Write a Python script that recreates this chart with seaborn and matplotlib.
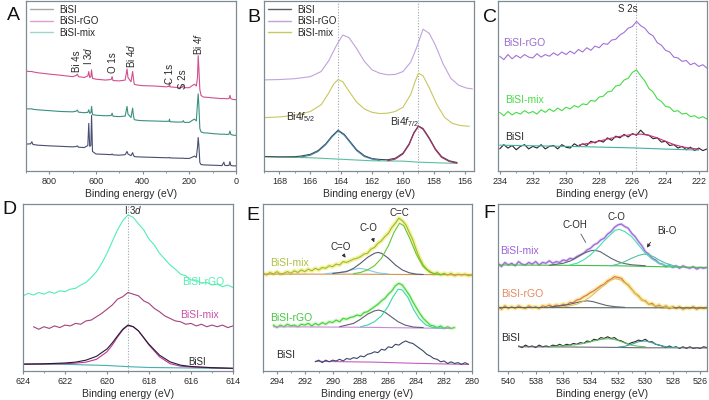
import matplotlib
matplotlib.use("Agg")
import matplotlib.pyplot as plt
import seaborn as sns
import numpy as np
from matplotlib.lines import Line2D

# ---------------- data (y in % of panel height) ----------------
# A: survey
A_e = [900, 880, 875, 870, 850, 800, 750, 700, 685, 680, 675, 650, 635, 631, 627, 622, 619, 615, 600, 560,
       535, 531, 527, 500, 475, 467, 463, 450, 443, 440, 436, 420, 400, 350, 300, 287, 285, 283, 260, 230,
       226, 222, 200, 185, 178, 170, 165, 162, 159, 155, 150, 140, 120, 100, 80, 60, 52, 48, 40, 30,
       26, 22, 10, 0]
A_rgo = [58.7, 58.5, 58.6, 58.3, 57.8, 57, 56.3, 55.5, 56.2, 57, 55.5, 55, 56, 58.5, 55, 55.5, 59.5, 54.5, 54, 53.5,
         53.8, 55.5, 53.2, 53, 53.5, 60, 55, 52.5, 58.5, 55, 51, 50.5, 50.2, 50, 49.5, 49.8, 52, 49.5, 49.2, 49.2,
         50.3, 49, 49, 50.5, 51, 50, 55, 67.8, 60, 48, 44.5, 43.5, 43.3, 43, 42.8, 42.6, 42.7, 42.6, 42.5, 42.6,
         44.5, 42.5, 42, 42]
A_mix = [36.6, 36.5, 36.6, 36.3, 36, 35.5, 35, 34.8, 35.2, 35.8, 34.6, 34.3, 34.5, 36, 34, 34.2, 38, 33.2, 32.8, 32.5,
         32.6, 34, 32.2, 32, 32.3, 38, 33.5, 31.5, 37, 33, 30.2, 29.8, 29.6, 29.4, 29.2, 29.3, 30.5, 29, 28.8, 28.8,
         29.6, 28.6, 28.6, 30, 30.5, 29.5, 40, 45.4, 38, 25, 23, 22.5, 22.3, 22, 21.8, 21.6, 21.7, 21.6, 21.5, 21.6,
         23.5, 21.5, 21, 21]
A_bisi = [15.8, 16, 17.2, 15.6, 15.2, 14.8, 14.5, 14.2, 14.4, 14.8, 14, 13.8, 15, 28, 14.5, 15, 32.7, 11.5, 10, 9.8,
          9.6, 10, 9.5, 9.3, 9.6, 11.5, 10, 9, 10.8, 9.5, 8.5, 8.3, 8.2, 8, 7.8, 7.8, 8, 7.7, 7.6, 7.5,
          7.6, 7.4, 7.4, 8.3, 8.8, 8, 14, 19.7, 15, 5, 3.8, 3.6, 3.5, 3.4, 3.3, 3.2, 5.2, 3.3, 3.2, 3.3,
          5.5, 3.2, 3, 3]
A_peaks = ["Bi 4s", "I 3$\\it{d}$", "O 1s", "Bi 4$\\it{d}$", "C 1s", "S 2s", "Bi 4$\\it{f}$"]
A_peak_e = [680, 633, 526, 450, 283, 226, 162]
A_peak_y = [64.6, 68, 64, 68, 57, 54, 75]

# B: Bi 4f
B_rgo_e = [169, 168, 167, 166, 165.3, 164.8, 164.3, 163.9, 163.5, 163, 162.5, 162, 161.5, 161, 160.5, 160, 159.5,
           159.1, 158.7, 158.3, 157.9, 157.4, 156.9, 156.4, 155.9, 155.5]
B_rgo = [53.6, 53.8, 54.3, 55.5, 58.5, 65, 74, 80, 78.5, 72, 64.5, 59.5, 57.5, 56.6, 56.8, 58.5, 64,
         73, 83.4, 81, 74, 63, 54.5, 50.5, 48.8, 48.3]
B_mix_e = [169, 168, 167, 166, 165.3, 164.8, 164.5, 164.2, 163.9, 163.5, 163, 162.5, 162, 161.5, 161, 160.5, 160,
           159.5, 159.2, 159, 158.7, 158.3, 157.8, 157.3, 156.8, 156.3, 155.7]
B_mix = [31.4, 31.8, 32.8, 35, 39, 46, 51, 53.8, 52.5, 47, 40.5, 36.5, 34.5, 33.8, 34, 35, 37.5,
         45, 53, 57.5, 56, 49, 39, 31.5, 28, 26.8, 26.3]
B_bisi_e = [169, 168, 167, 166.6, 166, 165.5, 165, 164.6, 164.2, 163.8, 163.4, 163, 162.5, 162, 161.5, 161, 160.5,
            160, 159.6, 159.3, 159, 158.7, 158.3, 157.9, 157.5, 157, 156.5]
B_bisi = [8.5, 8.3, 8.4, 8.8, 9.8, 12, 16, 20.5, 24, 21.5, 17, 12.5, 9, 7.3, 6.8, 6.6, 7.5,
          10.5, 16, 22.5, 26.5, 25, 19.5, 13, 8.5, 6, 5]
B_p1_e = [166.6, 166, 165.5, 165, 164.6, 164.2, 163.8, 163.4, 163, 162.5, 162, 161.5]
B_p1 = [8.2, 9.3, 11.5, 15.5, 20, 23.6, 21, 16.5, 12, 8.5, 7, 6.3]
B_p2_e = [161, 160.5, 160, 159.6, 159.3, 159, 158.7, 158.3, 157.9, 157.5, 157, 156.5]
B_p2 = [6, 7, 10, 15.5, 22, 26.3, 24.5, 19, 12.5, 8, 5.6, 4.6]
B_bg_e = [169, 166, 164.2, 162, 160, 159, 157, 156.5]
B_bg = [8.4, 7.8, 7.0, 6.0, 5.8, 5.2, 4.6, 4.5]

# C: S 2s
C_e = [234.0, 233.75, 233.5, 233.25, 233.0, 232.75, 232.5, 232.25, 232.0, 231.75, 231.5, 231.25, 231.0,
       230.75, 230.5, 230.25, 230.0, 229.75, 229.5, 229.25, 229.0, 228.75, 228.5, 228.25, 228.0, 227.75,
       227.5, 227.25, 227.0, 226.75, 226.5, 226.25, 226.0, 225.75, 225.5, 225.25, 225.0, 224.75, 224.5,
       224.25, 224.0, 223.75, 223.5, 223.25, 223.0, 222.75, 222.5, 222.25, 222.0, 221.75, 221.5]
C_rgo = [67.5, 65.5, 68.5, 66.0, 68.0, 66.5, 68.5, 67.0, 66.5, 69.0, 67.0, 68.5, 67.5,
         69.5, 68.0, 70.0, 68.5, 70.5, 69.0, 71.5, 70.0, 72.5, 71.0, 73.5, 72.5, 75.0,
         74.5, 77.0, 77.5, 80.0, 81.5, 84.0, 85.0, 88.0, 85.5, 84.0, 81.0, 79.5, 75.5,
         74.0, 71.0, 70.0, 67.0, 66.5, 64.5, 65.0, 62.5, 63.5, 61.5, 62.5, 60.5]
C_mix = [34.5, 32.5, 35.0, 33.0, 34.5, 33.5, 35.5, 34.0, 35.0, 33.5, 36.0, 34.5, 36.5,
         35.0, 37.0, 35.5, 37.5, 36.5, 38.5, 37.5, 39.5, 39.0, 41.5, 41.0, 43.5, 44.0,
         46.5, 47.0, 50.0, 50.5, 53.5, 54.5, 58.0, 59.5, 56.0, 53.0, 48.5, 46.5, 42.5,
         41.0, 38.0, 37.5, 35.0, 35.5, 33.5, 34.0, 32.0, 32.5, 31.0, 32.0, 30.5]
C_bisi = [13.0, 15.5, 13.5, 15.0, 12.5, 14.5, 15.5, 13.0, 14.5, 13.5, 15.5, 13.0, 14.5,
          15.0, 13.0, 15.5, 14.0, 13.5, 16.0, 14.5, 16.0, 15.0, 17.5, 16.5, 18.0, 17.0,
          19.5, 18.0, 20.5, 19.5, 21.5, 20.0, 22.0, 21.0, 24.0, 21.5, 21.0, 19.0, 19.5,
          17.0, 17.5, 15.0, 15.5, 13.5, 14.5, 12.5, 14.0, 12.0, 13.5, 12.0, 13.0]
C_fit_e = [229.2, 228.5, 228, 227.5, 227, 226.5, 226, 225.5, 225, 224.5, 224, 223.5, 223, 222.5, 222]
C_fit = [15.4, 16.5, 17.6, 18.8, 19.9, 20.8, 21.5, 21.7, 21.0, 19.5, 17.5, 15.6, 14.2, 13.4, 12.9]
C_bg_e = [234, 229, 226, 224, 222]
C_bg = [15.2, 14.3, 13.6, 12.9, 12.3]

# D: I 3d
D_e = [624.0, 623.75, 623.5, 623.25, 623.0, 622.75, 622.5, 622.25, 622.0, 621.75, 621.5, 621.25, 621.0,
       620.75, 620.5, 620.25, 620.0, 619.75, 619.5, 619.25, 619.0, 618.75, 618.5, 618.25, 618.0, 617.75,
       617.5, 617.25, 617.0, 616.75, 616.5, 616.25, 616.0, 615.75, 615.5, 615.25, 615.0, 614.75, 614.5,
       614.25, 614.0]
D_rgo = [45.0, 46.5, 45.5, 47.0, 46.0, 47.5, 46.5, 48.0, 47.5, 49.0, 49.5, 51.5, 53.0,
         56.0, 59.5, 64.5, 70.5, 77.5, 84.5, 90.0, 93.5, 92.0, 88.0, 84.5, 79.0, 75.5,
         70.5, 67.0, 63.5, 61.0, 58.0, 57.0, 54.5, 54.5, 52.5, 53.0, 51.5, 52.0, 50.5,
         51.5, 50.0]
D_mix = [26.5, 25.0, 26.5, 25.5, 27.0, 26.0, 27.5, 27.0, 28.5, 28.0, 30.0,
         30.5, 32.5, 34.5, 37.0, 39.5, 43.0, 44.5, 47.0, 46.0, 45.0, 42.0, 40.5, 37.5,
         35.5, 33.0, 31.5, 30.0, 29.5, 28.0, 28.5, 27.0, 28.0, 26.5, 27.5, 26.5, 27.5,
         26.0, 27.0]
D_fit_e = [624, 623, 622, 621.5, 621, 620.5, 620, 619.75, 619.5, 619.25, 619, 618.75, 618.5, 618.25, 618,
           617.5, 617, 616.5, 616, 615, 614]
D_fit = [4.1, 4.3, 4.8, 5.3, 6.5, 8.8, 13.2, 16.8, 21, 25, 27.5, 26.5, 24, 20, 16, 9.5, 5.5, 3.5, 2.7, 2.0, 1.6]
D_comp = [4.1, 4.2, 4.4, 4.7, 5.3, 7.0, 11.5, 15.5, 20.3, 24.6, 27.3, 26.5, 24, 19.8, 15.5, 8.5, 4.4, 2.9, 2.4, 1.9, 1.6]
D_bg_e = [624, 622, 620, 619, 618, 616, 614]
D_bg = [4.1, 4.0, 3.3, 2.6, 2.1, 1.8, 1.5]

# E: C 1s
E_e = [295.0, 294.75, 294.5, 294.25, 294.0, 293.75, 293.5, 293.25, 293.0, 292.75, 292.5, 292.25, 292.0,
       291.75, 291.5, 291.25, 291.0, 290.75, 290.5, 290.25, 290.0, 289.75, 289.5, 289.25, 289.0, 288.75,
       288.5, 288.25, 288.0, 287.75, 287.5, 287.25, 287.0, 286.75, 286.5, 286.25, 286.0, 285.75, 285.5,
       285.25, 285.0, 284.75, 284.5, 284.25, 284.0, 283.75, 283.5, 283.25, 283.0, 282.75, 282.5, 282.25,
       282.0, 281.75, 281.5, 281.25, 281.0, 280.75, 280.5, 280.25, 280.0]
E_mix = [58.5, 57.5, 59.0, 58.0, 59.5, 58.0, 58.5, 59.5, 58.5, 60.0, 59.0, 60.5, 59.5,
         61.0, 60.0, 61.5, 60.5, 62.0, 61.5, 63.0, 62.5, 64.0, 63.5, 65.5, 65.0, 66.0,
         67.0, 67.5, 68.5, 70.0, 70.5, 73.0, 74.0, 76.5, 78.0, 80.5, 82.5, 86.0, 88.5,
         91.5, 90.0, 87.5, 83.0, 78.5, 72.5, 67.5, 63.5, 61.0, 59.5, 58.0, 59.0, 57.5,
         58.5, 57.5, 58.5, 57.0, 58.0, 57.5, 58.0, 57.0, 57.5]
E_mix_cc_e = [288.5, 288, 287.5, 287, 286.5, 286, 285.6, 285.2, 284.9, 284.5, 284, 283.5, 283, 282.5, 282]
E_mix_cc = [58.3, 59, 60.5, 63, 67.5, 75, 83, 88.5, 87, 80, 70, 62.5, 59, 58, 57.8]
E_mix_co_e = [290, 289, 288.5, 288, 287.5, 287, 286.75, 286.5, 286, 285.5, 285, 284.5, 284, 283.5]
E_mix_co = [58.4, 59.5, 61.5, 64.5, 68, 70.5, 71, 70.5, 67.5, 63.5, 60.5, 58.8, 58, 57.8]
E_mix_cdo_e = [290.5, 289.5, 289, 288.5, 288.1, 287.7, 287.2, 286.7, 286]
E_mix_cdo = [58.3, 59, 59.8, 60.8, 61.5, 61, 59.8, 58.7, 58.1]
E_mix_bg_e = [295, 289, 285, 280]
E_mix_bg = [58, 58, 57.8, 57.6]

E_rgo_e = E_e[3:56]
E_rgo = [27.5, 26.0, 27.5, 26.5, 28.0, 27.0, 27.5, 26.5, 28.0, 27.5, 28.5, 27.0, 28.5,
         27.5, 29.0, 28.0, 29.5, 29.0, 30.5, 29.5, 31.5, 31.0, 32.0, 32.5, 33.5, 33.0,
         35.0, 35.5, 37.0, 38.5, 40.0, 42.0, 43.5, 46.0, 48.0, 51.0, 52.5, 51.5, 48.5,
         45.5, 41.5, 38.0, 34.5, 31.5, 29.5, 27.5, 27.0, 26.0, 27.0, 25.5, 26.5, 25.5, 26.0]
E_rgo_cc_e = [288, 287.5, 287, 286.5, 286, 285.7, 285.3, 285, 284.6, 284.2, 283.8, 283.3, 282.8, 282]
E_rgo_cc = [26.5, 27.5, 29.5, 33, 39, 44, 49, 48.5, 44, 37, 31.5, 27.5, 26, 25.7]
E_rgo_co_e = [289.5, 288.5, 288, 287.5, 287, 286.7, 286.3, 285.8, 285.3, 284.8, 284.2, 283.5]
E_rgo_co = [26.5, 28.5, 31, 34, 36, 36.5, 35.5, 32.5, 29.5, 27.5, 26.3, 26]
E_rgo_bg_e = [294.25, 288, 281.5]
E_rgo_bg = [26.5, 26.2, 25.5]

E_bisi_e = E_e[15:60]
E_bisi = [5.5, 6.5, 5.0, 6.5, 5.5, 6.5, 6.0, 7.0, 6.0, 7.5, 7.0, 8.0, 7.5, 9.0, 8.5,
          10.0, 10.5, 11.5, 11.0, 13.0, 12.5, 14.5, 14.0, 16.0, 15.5, 17.0, 18.0, 17.0, 16.5,
          15.0, 13.5, 12.0, 10.0, 9.0, 7.5, 7.0, 5.5, 6.0, 4.5, 5.5, 4.5, 5.0, 4.0, 5.0, 4.0]
E_bisi_bg_e = [291.25, 287, 284, 280.25]
E_bisi_bg = [5.8, 5.3, 4.6, 3.9]

# F: O 1s
F_e = [540.75, 540.5, 540.25, 540.0, 539.75, 539.5, 539.25, 539.0, 538.75, 538.5, 538.25, 538.0, 537.75,
       537.5, 537.25, 537.0, 536.75, 536.5, 536.25, 536.0, 535.75, 535.5, 535.25, 535.0, 534.75, 534.5,
       534.25, 534.0, 533.75, 533.5, 533.25, 533.0, 532.75, 532.5, 532.25, 532.0, 531.75, 531.5, 531.25,
       531.0, 530.75, 530.5, 530.25, 530.0, 529.75, 529.5, 529.25, 529.0, 528.75, 528.5, 528.25, 528.0,
       527.75, 527.5, 527.25, 527.0, 526.75, 526.5, 526.25, 526.0, 525.75, 525.5]
F_mix = [64.5, 62.5, 65.0, 63.5, 64.5, 63.0, 65.5, 64.0, 63.5, 65.0, 64.0, 65.5, 63.5,
         65.0, 64.5, 66.0, 64.5, 65.5, 65.0, 66.5, 66.0, 67.5, 67.0, 68.5, 69.5, 70.5,
         72.5, 73.5, 75.5, 76.5, 78.5, 79.5, 82.0, 83.5, 86.0, 87.5, 88.0, 86.5, 85.5,
         82.5, 80.5, 77.5, 75.0, 71.5, 70.0, 67.5, 66.5, 64.5, 64.0, 62.5, 63.5, 62.0,
         63.0, 61.5, 63.0, 62.0, 61.5, 62.5, 61.0, 62.0, 61.5, 62.0]
F_mix_co_e = [535.5, 535, 534.5, 534, 533.5, 533, 532.5, 532.2, 531.9, 531.5, 531, 530.5, 530, 529.5, 529, 528.5, 528]
F_mix_co = [63.5, 64.5, 66.5, 69.5, 73.5, 78, 82, 84.3, 84.8, 83.5, 80.5, 75.5, 70.5, 67, 64.5, 63.2, 62.6]
F_mix_coh_e = [537, 536, 535.5, 535, 534.5, 534, 533.7, 533.3, 533, 532.5, 532, 531.5, 531, 530]
F_mix_coh = [63.3, 64.5, 65.8, 68, 70.5, 72, 72.3, 71.5, 70, 67.5, 65.5, 64.3, 63.6, 63]
F_mix_bio_e = [532.5, 532, 531.5, 531, 530.5, 530.1, 529.7, 529.3, 529, 528.5, 528, 527.5]
F_mix_bio = [63, 64, 65.5, 67.5, 69.2, 70, 69.5, 68, 66.5, 64.5, 63.2, 62.5]
F_mix_bg_e = [540.75, 536, 532, 528, 525.5]
F_mix_bg = [63.5, 63.3, 63, 62.3, 62]

F_rgo = [38.5, 37.0, 39.0, 37.5, 38.5, 37.5, 39.0, 38.0, 37.5, 39.0, 38.0, 38.5, 37.5,
         39.0, 38.5, 39.5, 38.5, 39.5, 39.0, 40.0, 39.5, 41.0, 41.0, 42.5, 43.0, 44.5,
         45.5, 47.0, 48.0, 49.5, 51.0, 52.0, 54.0, 55.0, 56.5, 56.0, 55.5, 53.0, 51.5,
         49.0, 46.5, 45.0, 42.5, 42.0, 40.0, 40.5, 38.5, 39.5, 38.0, 39.0, 37.5, 38.5,
         37.5, 38.5, 37.0, 38.0, 37.5, 38.5, 37.0, 38.0, 37.5, 38.0]
F_rgo_co_e = [536, 535.5, 535, 534.5, 534, 533.5, 533, 532.5, 532.2, 531.8, 531.3, 530.8, 530.3, 529.8, 529.3, 528.5, 528]
F_rgo_co = [38.5, 39, 40, 41.8, 44.5, 48, 51.5, 54.5, 55.3, 54.5, 51.5, 47, 43, 40.5, 39, 38.3, 38]
F_rgo_coh_e = [537, 536, 535.5, 535, 534.5, 534.2, 533.8, 533.3, 532.8, 532.2, 531.5]
F_rgo_coh = [38.3, 39.2, 40, 41, 41.8, 42, 41.5, 40.3, 39.2, 38.5, 38.1]
F_rgo_bg_e = [540.75, 525.5]
F_rgo_bg = [38, 37.8]

F_bisi_e = F_e[6:62]
F_bisi = [15.0, 14.0, 15.5, 14.5, 15.0, 14.0, 15.5, 14.5, 15.0, 14.5, 15.5, 15.0, 16.0,
          15.0, 16.0, 15.5, 16.5, 16.0, 17.0, 16.5, 18.0, 17.5, 19.0, 18.5, 20.0, 19.5,
          20.5, 19.5, 20.0, 18.5, 18.0, 17.0, 16.0, 17.0, 17.5, 18.5, 18.0, 19.0, 17.5,
          17.5, 16.0, 15.5, 15.0, 14.0, 15.0, 14.0, 14.5, 13.5, 14.5, 13.5, 14.5, 13.5,
          14.0, 13.5, 14.5, 14.0]
F_bisi_c1_e = [537, 536, 535, 534.5, 534, 533.5, 533, 532.7, 532.3, 532, 531.5, 531, 530.5, 530]
F_bisi_c1 = [14.5, 15, 15.8, 16.5, 17.5, 18.5, 19.2, 19.3, 19, 18.3, 16.8, 15.5, 14.8, 14.5]
F_bisi_c2_e = [532, 531.5, 531, 530.5, 530.1, 529.7, 529.2, 528.7, 528.2, 527.5]
F_bisi_c2 = [14.3, 14.8, 16, 17.5, 18, 17.5, 16, 14.8, 14.2, 14]
F_bisi_bg_e = [539.25, 536, 533, 530, 527, 525.5]
F_bisi_bg = [14.5, 14.4, 14.2, 13.9, 13.9, 13.8]

# ---------------- style ----------------
sns.set_style("ticks")
plt.rcParams["font.family"] = ["Liberation Sans", "DejaVu Sans"]
plt.rcParams["mathtext.fontset"] = "custom"
plt.rcParams["mathtext.rm"] = "Liberation Sans"
plt.rcParams["mathtext.it"] = "Liberation Sans:italic"
FRAME = "#7d8b93"
TXT = "#2a2a2a"

fig = plt.figure(figsize=(7.09, 4.0), dpi=100)


def make_ax(l, t, r, b):
    ax = fig.add_axes([l / 709, 1 - b / 400, (r - l) / 709, (b - t) / 400])
    for s in ax.spines.values():
        s.set_color(FRAME)
        s.set_linewidth(0.9)
    ax.set_yticks([])
    ax.tick_params(axis="x", direction="out", length=2.5, width=0.8, color=FRAME,
                   labelsize=6.5, labelcolor=TXT, pad=2)
    ax.tick_params(axis="x", which="minor", direction="out", length=1.5, width=0.6, color=FRAME)
    return ax


def line(ax, x, y, color, lw=0.8, alpha=1.0):
    sns.lineplot(x=x, y=y, ax=ax, color=color, linewidth=lw, alpha=alpha,
                 sort=False, estimator=None, legend=False)


def setx(ax, lo, hi, major, minor):
    ax.set_xlim(lo, hi)
    ax.xaxis.set_major_locator(matplotlib.ticker.MultipleLocator(major))
    ax.xaxis.set_minor_locator(matplotlib.ticker.MultipleLocator(minor))
    ax.set_ylim(0, 100)
    ax.set_ylabel("Intensity (a.u.)", fontsize=7.5, color=TXT, labelpad=3)
    ax.set_xlabel("Binding energy (eV)", fontsize=7.5, color=TXT, labelpad=2)


def vdot(ax, x):
    ax.axvline(x, color="#9aa8b4", lw=0.8, ls=(0, (1, 1.5)), zorder=0)


def legend(ax, items):
    handles = [Line2D([0], [0], color=c, lw=1.0) for _, c in items]
    ax.legend(handles, [n for n, _ in items], loc="upper left", fontsize=7,
              frameon=False, borderpad=0.3, labelspacing=0.15,
              handlelength=2.4, handletextpad=0.6, borderaxespad=0.1)


# ---------------- A ----------------
axA = make_ax(26, 1, 236, 171)
line(axA, A_e, A_bisi, "#4a4e72")
line(axA, A_e, A_mix, "#3a9080")
line(axA, A_e, A_rgo, "#d0508f")
for t, e, y in zip(A_peaks, A_peak_e, A_peak_y):
    axA.text(e, y, t, rotation=90, ha="center", va="center", fontsize=7, color=TXT)
setx(axA, 900, 0, 200, 100)
legend(axA, [("BiSI", "#a8a8a8"), ("BiSI-rGO", "#e39ccb"), ("BiSI-mix", "#9fd6cc")])

# ---------------- B ----------------
axB = make_ax(264, 1, 474, 171)
vdot(axB, 164.2)
vdot(axB, 159.0)
line(axB, B_rgo_e, B_rgo, "#c0a2dc")
line(axB, B_mix_e, B_mix, "#c9c75e")
line(axB, B_bg_e, B_bg, "#5cc0a0")
line(axB, B_bisi_e, B_bisi, "#3e464e")
line(axB, B_p1_e, B_p1, "#3f80a2")
line(axB, B_p2_e, B_p2, "#a83068")
axB.text(166.6, 32, "Bi4$\\it{f}_{5/2}$", ha="center", va="center", fontsize=7.5, color=TXT)
axB.text(159.9, 29, "Bi4$\\it{f}_{7/2}$", ha="center", va="center", fontsize=7.5, color=TXT)
setx(axB, 169, 155.4, 2, 1)
legend(axB, [("BiSI", "#5a6066"), ("BiSI-rGO", "#c0a2dc"), ("BiSI-mix", "#c9c75e")])

# ---------------- C ----------------
axC = make_ax(498, 1, 707, 171)
vdot(axC, 225.8)
line(axC, C_e, C_rgo, "#a072d6")
line(axC, C_e, C_mix, "#45dc45")
line(axC, C_e, C_bisi, "#262626")
line(axC, C_bg_e, C_bg, "#45b0a5")
line(axC, C_fit_e, C_fit, "#d0307a")
axC.text(226.3, 95, "S 2s", ha="center", va="center", fontsize=7, color=TXT)
axC.text(233.8, 75, "BiSI-rGO", ha="left", va="center", fontsize=7.5, color="#9a6ad0")
axC.text(233.7, 41.5, "BiSI-mix", ha="left", va="center", fontsize=7.5, color="#45dc45")
axC.text(233.7, 20, "BiSI", ha="left", va="center", fontsize=7.5, color=TXT)
setx(axC, 234.1, 221.5, 2, 1)

# ---------------- D ----------------
axD = make_ax(23, 204, 233, 371)
vdot(axD, 619.0)
line(axD, D_e, D_rgo, "#52efb2")
line(axD, D_e[2:], D_mix, "#a3427c")
line(axD, D_bg_e, D_bg, "#45b0b0")
line(axD, D_fit_e, D_comp, "#c8309a")
line(axD, D_fit_e, D_fit, "#1e1e30")
axD.text(618.75, 96.5, "I 3$\\it{d}$", ha="center", va="center", fontsize=7, color=TXT)
axD.text(615.4, 53.5, "BiSI-rGO", ha="center", va="center", fontsize=7.5, color="#52efb2")
axD.text(615.6, 33.7, "BiSI-mix", ha="center", va="center", fontsize=7.5, color="#c850a8")
axD.text(615.7, 5.5, "BiSI", ha="center", va="center", fontsize=7, color=TXT)
setx(axD, 624, 614, 2, 1)

# ---------------- E ----------------
axE = make_ax(263, 204, 472, 371)
line(axE, E_e, E_mix, "#f2ee70", lw=3.0, alpha=0.7)
line(axE, E_e, E_mix, "#9cba3c")
line(axE, E_mix_bg_e, E_mix_bg, "#d4944e")
line(axE, E_mix_cdo_e, E_mix_cdo, "#86c8e2")
line(axE, E_mix_co_e, E_mix_co, "#525c72")
line(axE, E_mix_cc_e, E_mix_cc, "#62c832")
line(axE, E_rgo_e, E_rgo, "#b8f0a0", lw=2.4, alpha=0.6)
line(axE, E_rgo_e, E_rgo, "#3ed23e")
line(axE, E_rgo_bg_e, E_rgo_bg, "#c88ad8")
line(axE, E_rgo_co_e, E_rgo_co, "#5a6074")
line(axE, E_rgo_cc_e, E_rgo_cc, "#38d8a8")
line(axE, E_bisi_bg_e, E_bisi_bg, "#c060c0")
line(axE, E_bisi_e, E_bisi, "#3a4868")
axE.text(289.4, 74.5, "C=O", ha="center", va="center", fontsize=7, color=TXT)
axE.annotate("", xy=(288.95, 66.5), xytext=(289.35, 71),
             arrowprops=dict(arrowstyle="-|>", color="#333333", lw=0.6, mutation_scale=5))
axE.text(287.4, 85.5, "C-O", ha="center", va="center", fontsize=7, color=TXT)
axE.annotate("", xy=(286.95, 75.5), xytext=(287.2, 81),
             arrowprops=dict(arrowstyle="-|>", color="#333333", lw=0.6, mutation_scale=5))
axE.text(285.2, 94.5, "C=C", ha="center", va="center", fontsize=7, color=TXT)
axE.text(293.1, 64.5, "BiSI-mix", ha="center", va="center", fontsize=7.5, color="#b0c040")
axE.text(293.0, 32, "BiSI-rGO", ha="center", va="center", fontsize=7.5, color="#3ec83e")
axE.text(293.4, 9.5, "BiSI", ha="center", va="center", fontsize=7.5, color=TXT)
setx(axE, 295, 280, 2, 1)

# ---------------- F ----------------
axF = make_ax(498, 204, 707, 371)
line(axF, F_e, F_mix, "#c8b0ea", lw=2.0, alpha=0.6)
line(axF, F_e, F_mix, "#9a62d8")
line(axF, F_mix_bg_e, F_mix_bg, "#45c045")
line(axF, F_mix_coh_e, F_mix_coh, "#5e6670")
line(axF, F_mix_bio_e, F_mix_bio, "#58c0a0")
line(axF, F_mix_co_e, F_mix_co, "#42e0b2")
line(axF, F_e, F_rgo, "#f2e66a", lw=3.0, alpha=0.7)
line(axF, F_e, F_rgo, "#e06868")
line(axF, F_rgo_bg_e, F_rgo_bg, "#5a6a60")
line(axF, F_rgo_coh_e, F_rgo_coh, "#5e6670")
line(axF, F_rgo_co_e, F_rgo_co, "#e0c060")
line(axF, F_bisi_e, F_bisi, "#2a2a2a")
line(axF, F_bisi_bg_e, F_bisi_bg, "#6a6a7a")
line(axF, F_bisi_c1_e, F_bisi_c1, "#64c064")
line(axF, F_bisi_c2_e, F_bisi_c2, "#40a8a0")
axF.text(535.1, 87.5, "C-OH", ha="center", va="center", fontsize=7, color=TXT)
axF.annotate("", xy=(534.25, 75.5), xytext=(534.8, 83.5),
             arrowprops=dict(arrowstyle="-", color="#555555", lw=0.6))
axF.text(532.1, 92.5, "C-O", ha="center", va="center", fontsize=7, color=TXT)
axF.text(528.4, 84, "Bi-O", ha="center", va="center", fontsize=7, color=TXT)
axF.annotate("", xy=(530.0, 72.5), xytext=(529.5, 78.5),
             arrowprops=dict(arrowstyle="-|>", color="#333333", lw=0.6, mutation_scale=5))
axF.text(539.2, 71.7, "BiSI-mix", ha="center", va="center", fontsize=7.5, color="#9a62d8")
axF.text(539.0, 46, "BiSI-rGO", ha="center", va="center", fontsize=7.5, color="#e48a60")
axF.text(539.8, 20, "BiSI", ha="center", va="center", fontsize=7.5, color=TXT)
setx(axF, 540.75, 525.5, 2, 1)

# ---------------- panel letters ----------------
for lab, x, y in [("A", 13, 15), ("B", 254, 17), ("C", 490, 17),
                  ("D", 9, 209), ("E", 253, 216), ("F", 489, 214)]:
    fig.text(x / 709, 1 - y / 400, lab, fontsize=14, color="#111111", ha="center", va="center")

fig.savefig("out.png", dpi=100)
